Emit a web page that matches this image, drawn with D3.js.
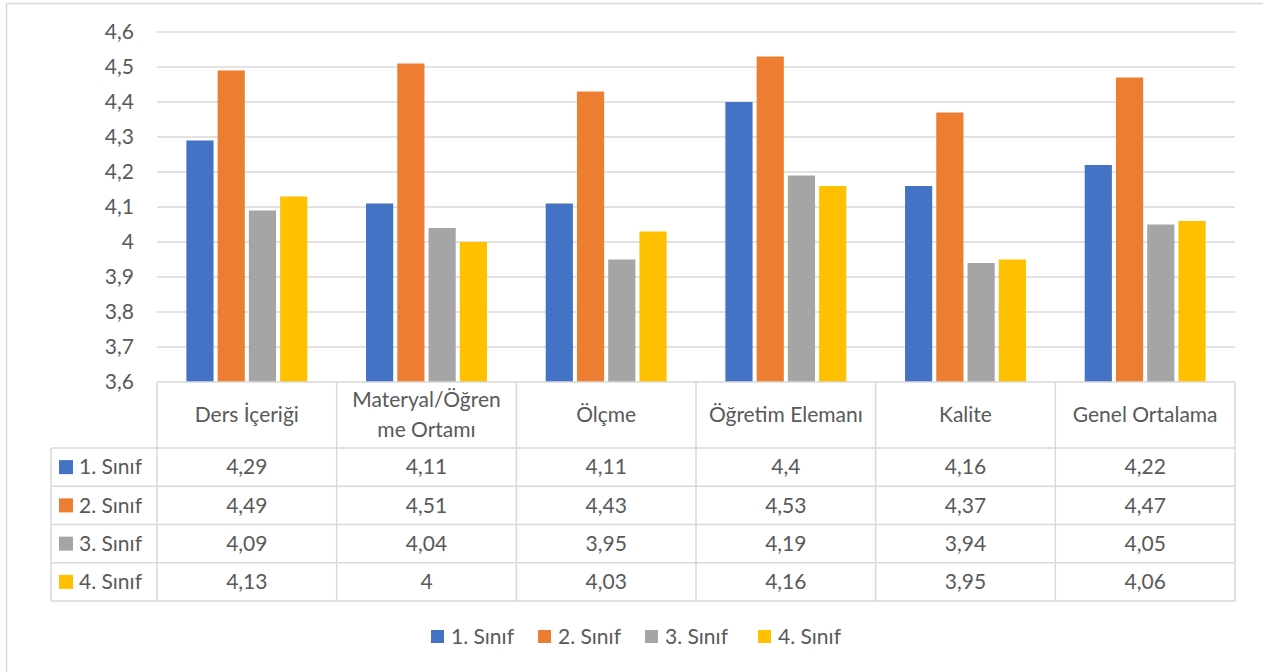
<!DOCTYPE html>
<html><head><meta charset="utf-8">
<script src="https://cdn.jsdelivr.net/npm/d3@7"></script>
<style>
html,body{margin:0;padding:0;background:#fff;}
svg{display:block;font-family:Lato,"Open Sans",sans-serif;}
</style></head>
<body>
<svg id="chart" width="1263" height="672"></svg>
<script>
const categories = ["Ders İçeriği", "Materyal/Öğrenme Ortamı", "Ölçme", "Öğretim Elemanı", "Kalite", "Genel Ortalama"];
const categoryLines = [["Ders İçeriği"], ["Materyal/Öğren", "me Ortamı"], ["Ölçme"], ["Öğretim Elemanı"], ["Kalite"], ["Genel Ortalama"]];
const seriesNames = ["1. Sınıf", "2. Sınıf", "3. Sınıf", "4. Sınıf"];
const sinif1 = [4.29, 4.11, 4.11, 4.4, 4.16, 4.22];
const sinif2 = [4.49, 4.51, 4.43, 4.53, 4.37, 4.47];
const sinif3 = [4.09, 4.04, 3.95, 4.19, 3.94, 4.05];
const sinif4 = [4.13, 4, 4.03, 4.16, 3.95, 4.06];
const yTicks = [3.6, 3.7, 3.8, 3.9, 4, 4.1, 4.2, 4.3, 4.4, 4.5, 4.6];
const colors = ["#4472C4", "#ED7D31", "#A5A5A5", "#FFC000"];

const seriesValues = [sinif1, sinif2, sinif3, sinif4];
const locale = d3.formatLocale({decimal: ",", thousands: ".", grouping: [3], currency: ["", ""]});
const fmt = locale.format(".2~f");

const svg = d3.select("#chart");
const textColor = "#595959", lineColor = "#D9D9D9";
const fontSize = 21;

// outer frame
svg.append("path").attr("d", "M6.5,700 V3.5 H1300").attr("fill", "none").attr("stroke", lineColor).attr("stroke-width", 1.5);

const plotL = 157, plotR = 1235, plotT = 32, plotB = 382;
const x0 = d3.scaleBand().domain(categories).range([plotL, plotR]).padding(0);
const x1 = d3.scaleBand().domain(seriesNames).range([0, x0.bandwidth()]).paddingInner(0.13).paddingOuter(0.94);
const y = d3.scaleLinear().domain([3.6, 4.6]).range([plotB, plotT]);

// gridlines
svg.append("g").selectAll("line").data(yTicks.filter(t => t > 3.6)).join("line")
  .attr("x1", plotL).attr("x2", plotR)
  .attr("y1", d => y(d)).attr("y2", d => y(d))
  .attr("stroke", lineColor).attr("stroke-width", 1.5);

// y axis labels
const yAxis = svg.append("g").attr("transform", "translate(134,0)")
  .call(d3.axisLeft(y).tickValues(yTicks).tickFormat(fmt).tickSize(0).tickPadding(0));
yAxis.select(".domain").remove();
yAxis.selectAll("text").attr("fill", textColor).style("font-size", fontSize + "px").style("font-family", "Lato,'Open Sans',sans-serif");

// bars
const groups = svg.append("g").selectAll("g").data(categories).join("g")
  .attr("transform", c => `translate(${x0(c)},0)`);
groups.selectAll("rect").data((c, i) => seriesNames.map((s, j) => ({s, j, v: seriesValues[j][i]}))).join("rect")
  .attr("x", d => x1(d.s)).attr("width", x1.bandwidth())
  .attr("y", d => y(d.v)).attr("height", d => y(3.6) - y(d.v))
  .attr("fill", d => colors[d.j]);

// data table
const headerB = 448, rowH = 38.25, tableL = 51;
const rowY = i => headerB + i * rowH;
const tbl = svg.append("g").attr("stroke", lineColor).attr("stroke-width", 1.5).attr("fill", "none");
tbl.append("line").attr("x1", plotL).attr("x2", plotR).attr("y1", plotB).attr("y2", plotB);
for (let i = 0; i <= 4; i++) {
  tbl.append("line").attr("x1", tableL).attr("x2", plotR).attr("y1", rowY(i)).attr("y2", rowY(i));
}
tbl.append("line").attr("x1", tableL).attr("x2", tableL).attr("y1", headerB).attr("y2", rowY(4));
const bounds = categories.map(c => x0(c)).concat([plotR]);
bounds.forEach(bx => tbl.append("line").attr("x1", bx).attr("x2", bx).attr("y1", plotB).attr("y2", rowY(4)));

// header text
const hdr = svg.append("g").attr("fill", textColor).style("font-size", fontSize + "px").attr("text-anchor", "middle");
categories.forEach((c, i) => {
  const lines = categoryLines[i];
  const cx = x0(c) + x0.bandwidth() / 2;
  const cy = (plotB + headerB) / 2;
  const lh = 30;
  lines.forEach((ln, k) => {
    hdr.append("text").attr("x", cx).attr("y", cy + (k - (lines.length - 1) / 2) * lh).attr("dy", "0.35em").text(ln);
  });
});

// row labels and values
const body = svg.append("g").attr("fill", textColor).style("font-size", fontSize + "px");
seriesNames.forEach((s, j) => {
  const cy = rowY(j) + rowH / 2;
  body.append("rect").attr("x", 59).attr("y", cy - 7).attr("width", 14).attr("height", 14).attr("fill", colors[j]);
  body.append("text").attr("x", 79).attr("y", cy).attr("dy", "0.35em").text(s);
  categories.forEach((c, i) => {
    body.append("text").attr("x", x0(c) + x0.bandwidth() / 2).attr("y", cy).attr("dy", "0.35em")
      .attr("text-anchor", "middle").text(fmt(seriesValues[j][i]));
  });
});

// legend
const legendX = [431, 538, 645, 758];
const leg = svg.append("g").attr("fill", textColor).style("font-size", fontSize + "px");
seriesNames.forEach((s, j) => {
  leg.append("rect").attr("x", legendX[j]).attr("y", 630).attr("width", 13).attr("height", 13).attr("fill", colors[j]);
  leg.append("text").attr("x", legendX[j] + 20).attr("y", 637).attr("dy", "0.35em").text(s);
});
</script>
</body></html>
